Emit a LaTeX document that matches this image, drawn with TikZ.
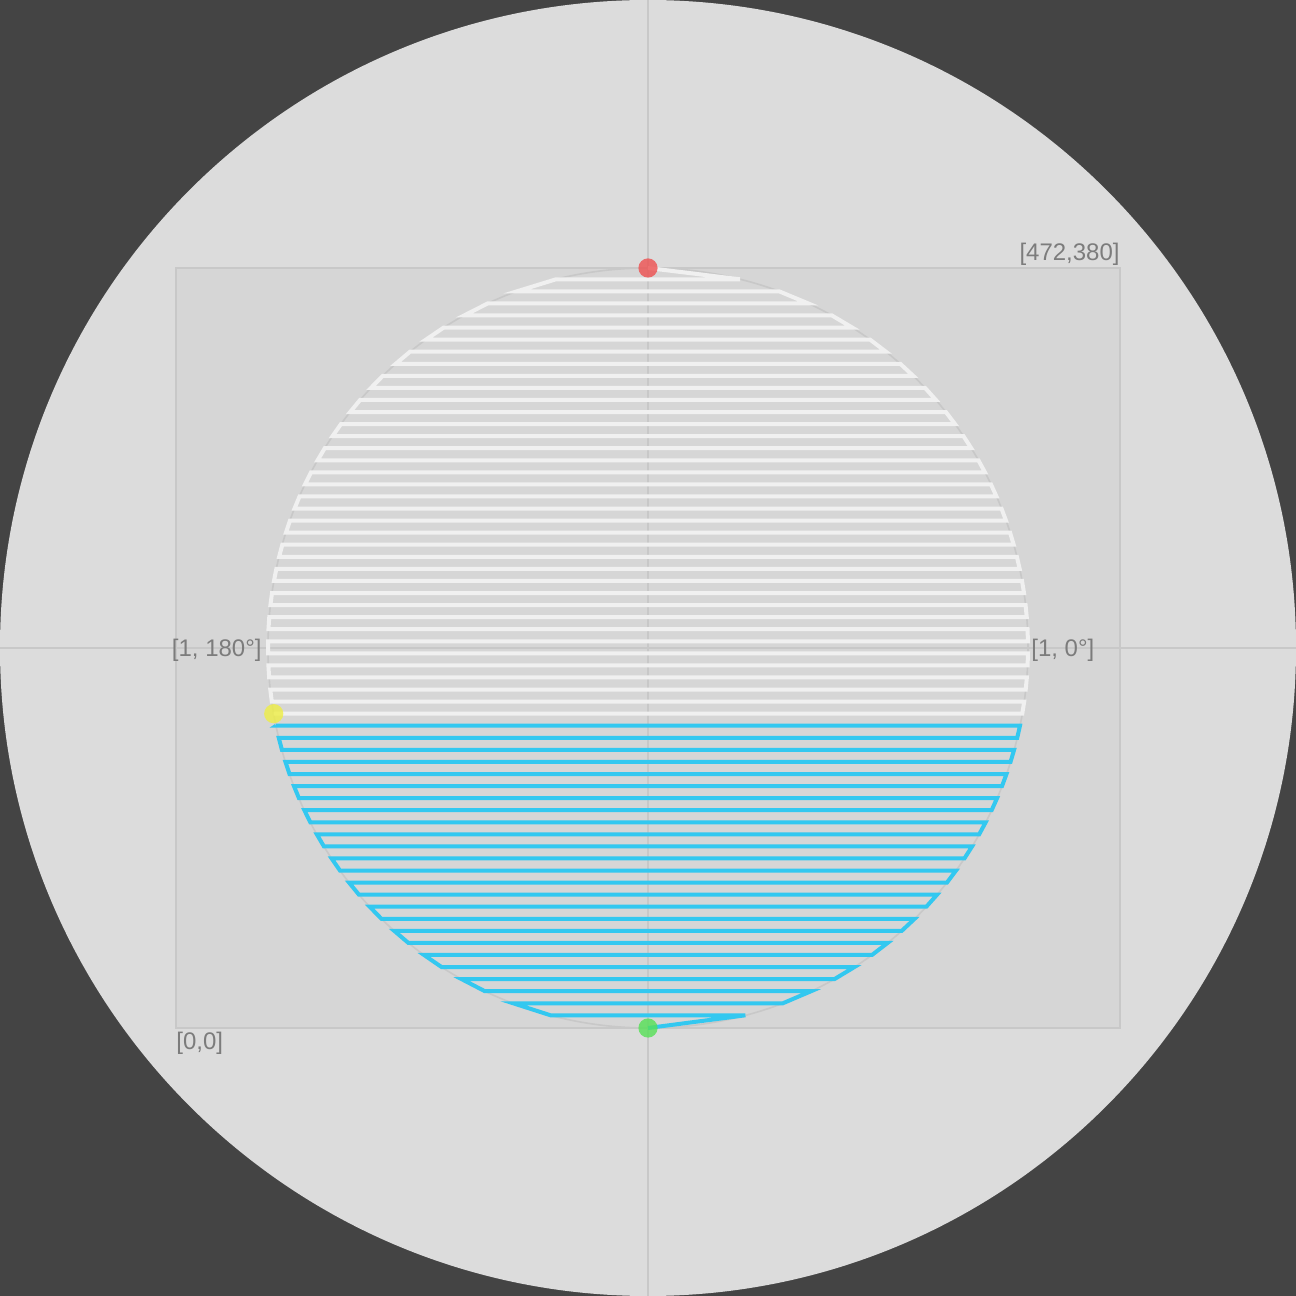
\documentclass[tikz,border=0pt]{standalone}
\usepackage{fontspec}
\setmainfont{Liberation Sans}
\usetikzlibrary{positioning}
\definecolor{bgdark}{HTML}{444444}
\definecolor{dialbg}{HTML}{DCDCDC}
\definecolor{boxfill}{HTML}{D6D6D6}
\definecolor{gridline}{HTML}{C8C8C8}
\definecolor{labelgray}{HTML}{7C7C7C}
\definecolor{hatchwhite}{HTML}{F0F0F0}
\definecolor{hatchcyan}{HTML}{33C8F0}
\definecolor{dotred}{HTML}{EE5050}
\definecolor{dotyellow}{HTML}{EEEE44}
\definecolor{dotgreen}{HTML}{55E055}

\begin{document}
\begin{tikzpicture}[x=1pt, y=1pt,
    axislabel/.style={text=labelgray, font=\fontsize{12}{14}\selectfont, inner sep=0pt},
    hatch/.style={line width=2pt},
    marker/.style={fill opacity=0.8}]
    \useasboundingbox (-88,-134) rectangle (560,514);
    \fill[bgdark] (-88,-134) rectangle (560,514);
    \fill[dialbg] (236,190) circle (324);
    \draw[gridline, fill=boxfill, line width=1pt] (0,0) rectangle (472,380);
    \draw[gridline, line width=1pt] (-88,190) -- (560,190);
    \draw[gridline, line width=1pt] (236,-134) -- (236,514);
    \draw[gridline, line width=0.8pt] (236,190) circle (190);

    \coordinate (start) at (236,380);
    \coordinate (turn) at (48.86,157.16);
    \coordinate (cyanstart) at (50.02,151.13);
    \coordinate (stop) at (236,0);

    % serpentine fill, top part
    \draw[hatchwhite, hatch] (start)
      \foreach \k [evaluate=\k as \dy using {184.35-(\k-1)*6.033},
                   evaluate=\k as \hw using {190*sqrt(1-((184.35-(\k-1)*6.033)/190)^2)},
                   evaluate=\k as \s using {1-2*mod(\k+1,2)}] in {1,...,37}
        { -- ({236+\s*\hw},{190+\dy}) -- ({236-\s*\hw},{190+\dy}) };

    % serpentine fill, bottom part
    \draw[hatchcyan, hatch] (cyanstart)
      \foreach \k [evaluate=\k as \dy using {184.35-(\k-1)*6.033},
                   evaluate=\k as \hw using {190*sqrt(1-((184.35-(\k-1)*6.033)/190)^2)},
                   evaluate=\k as \s using {1-2*mod(\k+1,2)}] in {38,...,62}
        { -- ({236+\s*\hw},{190+\dy}) -- ({236-\s*\hw},{190+\dy}) } -- (stop);

    \fill[dotred, marker] (start) circle (4.8);
    \fill[dotyellow, marker] (turn) circle (4.8);
    \fill[dotgreen, marker] (stop) circle (4.8);

    \node[axislabel, anchor=south east] (maxlbl) at (472,381) {[472,380]};
    \node[axislabel, anchor=north west] (minlbl) at (0,-2) {[0,0]};
    \node[axislabel, anchor=east] (leftlbl) at (43,189) {[1, 180°]};
    \node[axislabel, anchor=west] (rightlbl) at (427.5,189) {[1, 0°]};
\end{tikzpicture}
\end{document}
